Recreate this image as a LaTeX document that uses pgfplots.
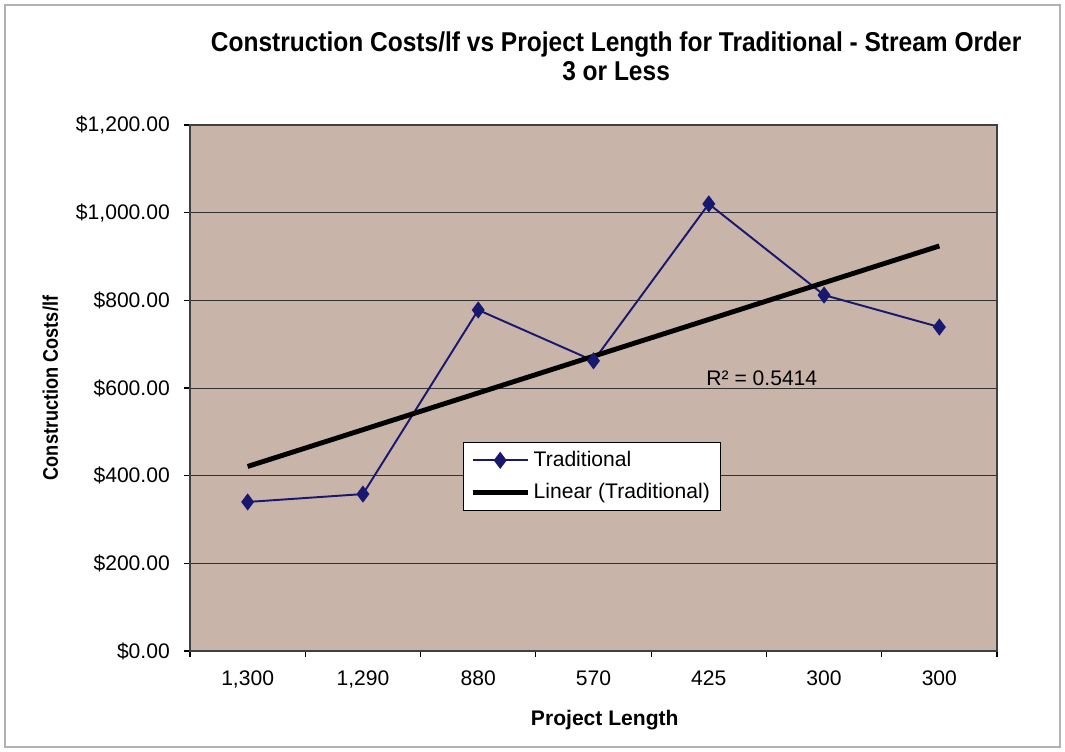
\documentclass[border=0pt]{standalone}
\usepackage{fontspec}
\setmainfont{Liberation Sans}
\newfontfamily\narrowfont[FakeStretch=0.9]{Liberation Sans}
\newfontfamily\ynarrowfont[FakeStretch=0.86]{Liberation Sans}
\usepackage{pgfplots}
\pgfplotsset{compat=1.18}

\definecolor{plotbg}{RGB}{201,180,170}
\definecolor{navyline}{RGB}{24,24,110}

\begin{document}
\begin{tikzpicture}[x=1cm,y=1cm]
% page frame, 1px = 0.02cm
\path[use as bounding box] (0,0) rectangle (21.3,15.04);
\draw[gray!60, line width=0.8pt] (0.1,0.1) rectangle (21.2,14.94);
\begin{axis}[
  at={(3.8cm,2.02cm)}, anchor=south west,
  scale only axis, width=16.14cm, height=10.52cm,
  xmin=-0.5, xmax=6.5, ymin=0, ymax=1200,
  axis background/.style={fill=plotbg},
  axis line style={black!75, line width=0.6pt},
  xtick={0,...,6},
  xticklabels={1{,}300,1{,}290,880,570,425,300,300},
  major x tick style={draw=none},
  minor xtick={-0.5,0.5,...,6.5},
  minor tick length=0.12cm,
  ytick={0,200,...,1200},
  major tick length=0.12cm,
  tick align=outside,
  tick pos=left,
  tick style={black, line width=0.6pt},
  ymajorgrids, grid style={black!80, line width=0.5pt},
  /pgf/number format/assume math mode=true,
  yticklabel={\$\pgfmathprintnumber[fixed,fixed zerofill,precision=2,1000 sep={,}]{\tick}},
  tick label style={font=\fontsize{12}{14}\selectfont},
  xticklabel style={yshift=-0.15cm},
  yticklabel style={xshift=-0.16cm},
  title={Construction Costs/lf vs Project Length for Traditional - Stream Order\\3 or Less},
  title style={at={(axis description cs:0.528,1.11)}, anchor=center, align=center,
    font=\narrowfont\bfseries\fontsize{15.5}{16.5}\selectfont},
  xlabel={Project Length},
  xlabel style={at={(axis description cs:0.514,-0.131)}, anchor=center, font=\bfseries\fontsize{12}{14}\selectfont},
  ylabel={Construction Costs/lf},
  ylabel style={at={(axis description cs:-0.173,0.5)}, anchor=center, font=\ynarrowfont\bfseries\fontsize{12}{14}\selectfont},
  legend style={at={(axis description cs:0.338,0.397)}, anchor=north west,
    draw=black, fill=white, font=\fontsize{12}{14}\selectfont,
    inner xsep=4pt, inner ysep=3pt, row sep=4pt, line width=0.5pt},
  legend cell align=left,
  legend image code/.code={\draw[mark repeat=2,mark phase=2] plot coordinates {(0cm,0cm) (0.55cm,0cm) (1.1cm,0cm)};},
]
\addplot[navyline, line width=1.1pt, mark=diamond*, mark size=4pt,
  mark options={fill=navyline, draw=navyline}]
  coordinates {(0,340) (1,358) (2,778) (3,662) (4,1020) (5,812) (6,739)};
\addlegendentry{Traditional}
\addplot[black, line width=2.8pt, no marks]
  coordinates {(0,421) (6,924)};
\addlegendentry{Linear (Traditional)}
\node[font=\fontsize{12}{14}\selectfont] at (axis cs:4.46,623) {R² = 0.5414};
\end{axis}
\end{tikzpicture}
\end{document}
